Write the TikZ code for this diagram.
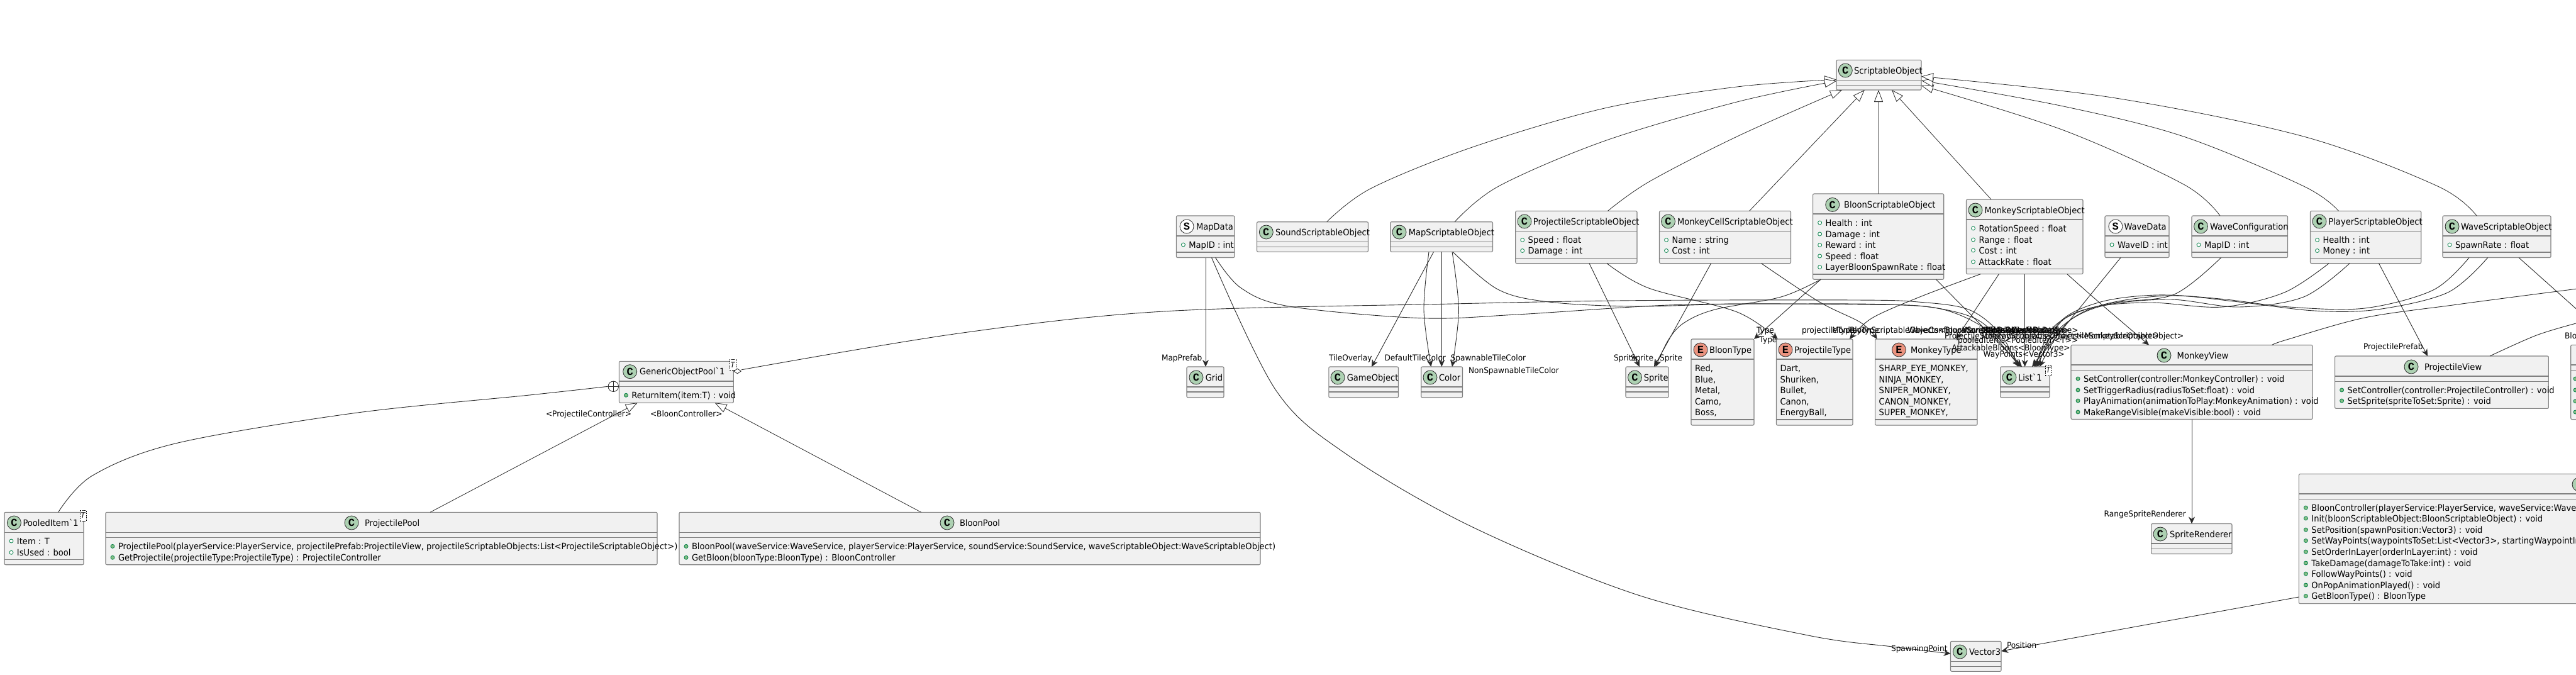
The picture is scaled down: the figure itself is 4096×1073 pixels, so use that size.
\documentclass[tikz,border=0pt]{standalone}
\usepackage{fontspec}
\usetikzlibrary{arrows.meta,shapes.geometric,calc}
\newfontfamily\umlf[FakeStretch=0.935]{DejaVu Sans}
\newfontfamily\spotf{Liberation Mono}
\definecolor{boxfill}{HTML}{F1F1F1}
\definecolor{boxline}{HTML}{808080}
\definecolor{ink}{HTML}{2A2A2A}
\definecolor{spotc}{HTML}{ADD1B2}
\definecolor{spote}{HTML}{EB937F}
\definecolor{dotline}{HTML}{038048}
\definecolor{dotfill}{HTML}{84BE84}
\newcount\autoN
\tikzset{
  classbox/.style={draw=boxline,fill=boxfill,line width=1.1pt,rounded corners=2pt,inner sep=0pt,outer sep=0pt},
  sepline/.style={draw=boxline,line width=1.1pt},
  spotn/.style={circle,draw=ink,line width=.8pt,minimum size=22pt,inner sep=0pt,font=\spotf\bfseries\fontsize{17}{17}\selectfont},
  txt/.style={anchor=base west,inner sep=0pt,outer sep=0pt,text=black,font=\umlf\fontsize{14}{14}\selectfont},
  lab/.style={anchor=base west,inner sep=0pt,outer sep=0pt,text=black,font=\umlf\fontsize{13}{13}\selectfont},
  dotn/.style={circle,draw=dotline,line width=.8pt,minimum size=6pt,inner sep=0pt},
  tmplbox/.style={draw=black,dashed,dash pattern=on 2pt off 1.5pt,line width=.7pt,fill=white,inner sep=0pt,font=\umlf\itshape\fontsize{12}{12}\selectfont},
  assoc/.style={draw=ink,line width=.9pt,-{Stealth[length=11pt,width=10pt,inset=3.5pt]}},
  inherit/.style={draw=ink,line width=.8pt,-{Triangle[open,fill=white,length=19pt,width=14pt,line width=.8pt]}},
  plainc/.style={draw=ink,line width=.9pt}
}
\newcommand\umlbox[7]{%
  \pgfmathsetmacro\bcx{(#2+#4)/2}\pgfmathsetmacro\bcy{(#3+#5)/2}%
  \pgfmathsetmacro\bw{#4-#2}\pgfmathsetmacro\bh{#5-#3}%
  \node[classbox,minimum width=\bw pt,minimum height=\bh pt] (#1) at (\bcx,\bcy) {};
  \draw[sepline] (#1.west |- 0,#6) -- (#1.east |- 0,#6);
  \draw[sepline] (#1.west |- 0,#7) -- (#1.east |- 0,#7);
}
\newcommand\head[7]{%
  \node[spotn,fill=#5] (#1-s) at (#2,#3) {#4};
  \node[txt] (#1-t) at (#6,#3+5) {#7};
}
\newcommand\attr[4]{\global\advance\autoN by 1
  \node[dotn,fill=white] (d\the\autoN) at (#2+11,#3) {};
  \node[txt] (#1-\the\autoN) at (#2+20,#3+5) {#4};}
\newcommand\meth[4]{\global\advance\autoN by 1
  \node[dotn,fill=dotfill] (d\the\autoN) at (#2+11,#3) {};
  \node[txt] (#1-\the\autoN) at (#2+20,#3+5) {#4};}
\newcommand\lit[4]{\global\advance\autoN by 1
  \node[txt] (#1-\the\autoN) at (#2+6,#3+5) {#4};}
\newcommand\tmpl[5]{%
  \pgfmathsetmacro\bcx{(#2+#4)/2}\pgfmathsetmacro\bcy{(#3+#5)/2}%
  \pgfmathsetmacro\bw{#4-#2}\pgfmathsetmacro\bh{#5-#3}%
  \node[tmplbox,minimum width=\bw pt,minimum height=\bh pt] (#1) at (\bcx,\bcy) {T};}
\newcommand\conn[2]{\draw[#1] plot[smooth,tension=.55] coordinates {#2};}
\begin{document}
\begin{tikzpicture}[x=1pt,y=-1pt]
\path[use as bounding box,clip] (0,0) rectangle (4096,1073);

% ---------- classes
\umlbox{so}{2920}{95.4}{3055}{143}{127.4}{135.3}
\head{so}{2934.3}{112}{C}{spotc}{2948}{ScriptableObject}

\umlbox{mapdata}{1870.4}{343}{1963}{409.5}{375}{401}
\head{mapdata}{1887}{360}{S}{white}{1902}{MapData}
\attr{mapdata}{1870.4}{389}{MapID : int}

\umlbox{sound}{1998.5}{352.7}{2175.5}{400.3}{384.5}{392.3}
\head{sound}{2013.3}{369}{C}{spotc}{2028}{SoundScriptableObject}

\umlbox{mapso}{2210.7}{352.7}{2373.5}{400.3}{384.5}{392.3}
\head{mapso}{2225}{369}{C}{spotc}{2239.8}{MapScriptableObject}

\umlbox{projso}{2409.7}{335.4}{2603}{418.7}{367.4}{410.3}
\head{projso}{2424}{352}{C}{spotc}{2437.8}{ProjectileScriptableObject}
\attr{projso}{2409.7}{381.5}{Speed : float}
\attr{projso}{2409.7}{398.5}{Damage : int}

\umlbox{cellso}{2638.5}{335.4}{2847.5}{418.7}{367.4}{410.3}
\head{cellso}{2652.5}{352}{C}{spotc}{2667}{MonkeyCellScriptableObject}
\attr{cellso}{2638.5}{381.5}{Name : string}
\attr{cellso}{2638.5}{398.5}{Cost : int}

\umlbox{bloonso}{2882.6}{308}{3090.7}{444.2}{340}{436}
\head{bloonso}{2913.7}{325.4}{C}{spotc}{2932}{BloonScriptableObject}
\attr{bloonso}{2882.6}{354}{Health : int}
\attr{bloonso}{2882.6}{372}{Damage : int}
\attr{bloonso}{2882.6}{389.5}{Reward : int}
\attr{bloonso}{2882.6}{407}{Speed : float}
\attr{bloonso}{2882.6}{424.6}{LayerBloonSpawnRate : float}

\umlbox{monkeyso}{3126.5}{317}{3312}{435.6}{349}{427.7}
\head{monkeyso}{3141}{334}{C}{spotc}{3155.5}{MonkeyScriptableObject}
\attr{monkeyso}{3126.5}{363}{RotationSpeed : float}
\attr{monkeyso}{3126.5}{381}{Range : float}
\attr{monkeyso}{3126.5}{398}{Cost : int}
\attr{monkeyso}{3126.5}{416}{AttackRate : float}

\umlbox{wavedata}{3347}{343}{3449}{409.5}{375}{401}
\head{wavedata}{3363.8}{360}{S}{white}{3377.5}{WaveData}
\attr{wavedata}{3347}{389}{WaveID : int}

\umlbox{wavecfg}{3485}{343}{3637.6}{409.5}{375}{401}
\head{wavecfg}{3499.5}{360}{C}{spotc}{3514}{WaveConfiguration}
\attr{wavecfg}{3485}{389}{MapID : int}

\umlbox{playerso}{3673.5}{335.4}{3849.7}{418.7}{367.4}{410.3}
\head{playerso}{3688}{352}{C}{spotc}{3702.4}{PlayerScriptableObject}
\attr{playerso}{3673.5}{381.5}{Health : int}
\attr{playerso}{3673.5}{398.5}{Money : int}

\umlbox{waveso}{3884}{343}{4056}{409.5}{375}{401}
\head{waveso}{3899}{360}{C}{spotc}{3913}{WaveScriptableObject}
\attr{waveso}{3884}{389}{SpawnRate : float}

\umlbox{grid}{1887}{583}{1946}{632}{615}{623}
\head{grid}{1902}{600}{C}{spotc}{1916.8}{Grid}
\umlbox{gameobj}{2112.8}{583}{2223.5}{632}{615}{623}
\head{gameobj}{2127}{600}{C}{spotc}{2141.8}{GameObject}
\umlbox{color}{2259.7}{583}{2325.5}{632}{615}{623}
\head{color}{2274}{600}{C}{spotc}{2288}{Color}
\umlbox{sprite}{2585}{583}{2653}{632}{615}{623}
\head{sprite}{2599.5}{600}{C}{spotc}{2613.8}{Sprite}

\umlbox{bloontype}{2689}{539}{2789}{676}{571}{667}
\head{bloontype}{2704}{556}{E}{spote}{2718}{BloonType}
\lit{bloontype}{2689}{585}{Red,}
\lit{bloontype}{2689}{603}{Blue,}
\lit{bloontype}{2689}{620}{Metal,}
\lit{bloontype}{2689}{638}{Camo,}
\lit{bloontype}{2689}{655}{Boss,}

\umlbox{projtype}{2824.5}{539}{2946}{676}{571}{667}
\head{projtype}{2839}{556}{E}{spote}{2853}{ProjectileType}
\lit{projtype}{2824.5}{585}{Dart,}
\lit{projtype}{2824.5}{603}{Shuriken,}
\lit{projtype}{2824.5}{620}{Bullet,}
\lit{projtype}{2824.5}{638}{Canon,}
\lit{projtype}{2824.5}{655}{EnergyBall,}

\umlbox{monkeytype}{2981.6}{539}{3144}{676}{571}{667}
\head{monkeytype}{3019.4}{556}{E}{spote}{3038}{MonkeyType}
\lit{monkeytype}{2981.6}{585}{SHARP\_EYE\_MONKEY,}
\lit{monkeytype}{2981.6}{603}{NINJA\_MONKEY,}
\lit{monkeytype}{2981.6}{620}{SNIPER\_MONKEY,}
\lit{monkeytype}{2981.6}{638}{CANON\_MONKEY,}
\lit{monkeytype}{2981.6}{655}{SUPER\_MONKEY,}

\umlbox{list}{3180.6}{583}{3259}{632}{615}{623}
\head{list}{3195}{600}{C}{spotc}{3209}{List`1}
\tmpl{list-T}{3252}{580}{3262}{597}

\umlbox{monkeyview}{3293}{548.5}{3677}{666.5}{580}{588.5}
\head{monkeyview}{3441}{565}{C}{spotc}{3461.7}{MonkeyView}
\meth{monkeyview}{3293}{602}{SetController(controller:MonkeyController) : void}
\meth{monkeyview}{3293}{620}{SetTriggerRadius(radiusToSet:float) : void}
\meth{monkeyview}{3293}{637}{PlayAnimation(animationToPlay:MonkeyAnimation) : void}
\meth{monkeyview}{3293}{655}{MakeRangeVisible(makeVisible:bool) : void}

\umlbox{projview}{3712.6}{566}{4052.4}{649.4}{598}{606.7}
\head{projview}{3834}{583}{C}{spotc}{3855}{ProjectileView}
\meth{projview}{3712.6}{620}{SetController(controller:ProjectileController) : void}
\meth{projview}{3712.6}{637}{SetSprite(spriteToSet:Sprite) : void}

\umlbox{bloonview}{4087.7}{548.3}{4300}{666.7}{580}{588.3}
\node[dotn,fill=dotfill] (bv1) at (4095,602) {};
\node[dotn,fill=dotfill] (bv2) at (4095,620) {};
\node[dotn,fill=dotfill] (bv3) at (4095,637.7) {};
\node[dotn,fill=dotfill] (bv4) at (4095,655) {};

\umlbox{spriterend}{3420.6}{832.5}{3549}{880.5}{864}{872.6}
\head{spriterend}{3435}{849}{C}{spotc}{3450}{SpriteRenderer}

\umlbox{bloonctrl}{3655.4}{753.4}{4400}{959.6}{785}{793.5}
\node[spotn,fill=spotc] (bloonctrl-s) at (4101,770) {};
\meth{bloonctrl}{3655.4}{807}{BloonController(playerService:PlayerService, waveService:WaveService, soundService:SoundService) }
\meth{bloonctrl}{3655.4}{824}{Init(bloonScriptableObject:BloonScriptableObject) : void}
\meth{bloonctrl}{3655.4}{842}{SetPosition(spawnPosition:Vector3) : void}
\meth{bloonctrl}{3655.4}{859.5}{SetWayPoints(waypointsToSet:List<Vector3>, startingWaypointIndex:int) : void}
\meth{bloonctrl}{3655.4}{877}{SetOrderInLayer(orderInLayer:int) : void}
\meth{bloonctrl}{3655.4}{895}{TakeDamage(damageToTake:int) : void}
\meth{bloonctrl}{3655.4}{912}{FollowWayPoints() : void}
\meth{bloonctrl}{3655.4}{930}{OnPopAnimationPlayed() : void}
\meth{bloonctrl}{3655.4}{947.5}{GetBloonType() : BloonType}

\umlbox{vector}{3101.5}{1019.3}{3182}{1067.3}{1051.3}{1059.3}
\head{vector}{3116.3}{1036}{C}{spotc}{3131}{Vector3}

\umlbox{gop}{984.4}{574.3}{1166.4}{640.3}{606}{614.3}
\head{gop}{1001.7}{590.7}{C}{spotc}{1017}{GenericObjectPool`1}
\meth{gop}{984.4}{628.3}{ReturnItem(item:T) : void}
\tmpl{gop-T}{1160}{571.7}{1170}{588}

\umlbox{pooled}{7}{814.3}{133}{897.7}{846.5}{889.2}
\head{pooled}{22.4}{831}{C}{spotc}{36.5}{PooledItem`1}
\attr{pooled}{7}{860}{Item : T}
\attr{pooled}{7}{878.3}{IsUsed : bool}
\tmpl{pooled-T}{127}{811}{137}{828}

\umlbox{projpool}{168}{814.3}{1045}{897.7}{846.5}{854.5}
\head{projpool}{559}{831}{C}{spotc}{580}{ProjectilePool}
\meth{projpool}{168}{868.4}{ProjectilePool(playerService:PlayerService, projectilePrefab:ProjectileView, projectileScriptableObjects:List<ProjectileScriptableObject>)}
\meth{projpool}{168}{886.3}{GetProjectile(projectileType:ProjectileType) : ProjectileController}

\umlbox{bloonpool}{1080}{814.3}{2004}{897.7}{846.5}{854.5}
\head{bloonpool}{1506}{831}{C}{spotc}{1526}{BloonPool}
\meth{bloonpool}{1080}{868.4}{BloonPool(waveService:WaveService, playerService:PlayerService, soundService:SoundService, waveScriptableObject:WaveScriptableObject)}
\meth{bloonpool}{1080}{886.3}{GetBloon(bloonType:BloonType) : BloonController}

% ---------- generalisation to ScriptableObject
\conn{inherit}{(2109.6,0 |- sound.north) (2179.7,299.6) (2341,234) (2551.5,172) (2762,138) (so.west |- 0,126.5)}
\conn{inherit}{(2313,0 |- mapso.north) (2383,296) (2551.5,224) (2762,162) (so.west |- 0,128.8)}
\conn{inherit}{(2556.4,0 |- projso.north) (2622,289) (2762,217) (2929,0 |- so.south)}
\draw[inherit] (2781.6,0 |- cellso.north) -- (2964.8,0 |- so.south);
\draw[inherit] (2987,0 |- bloonso.north) -- (2987,0 |- so.south);
\draw[inherit] (3166,0 |- monkeyso.north) -- (3008,0 |- so.south);
\conn{inherit}{(3530,0 |- wavecfg.north) (3472,293) (3281,207) (so.east |- 0,136)}
\conn{inherit}{(3718.5,0 |- playerso.north) (3663,296) (3472,217) (3281,169) (so.east |- 0,128)}
\conn{inherit}{(3938,0 |- waveso.north) (3876,296) (3663,217) (3358,155) (so.east |- 0,121.5)}

% ---------- generalisation to the pool
\draw[inherit] (684,0 |- projpool.north) -- (1013.7,0 |- gop.south);
\draw[inherit] (1464.7,0 |- bloonpool.north) -- (1136.6,0 |- gop.south);

% ---------- nested class
\node[circle,draw=ink,line width=.8pt,fill=white,minimum size=16.5pt,inner sep=0pt] (plus) at (975.3,614.3) {};
\draw[plainc] (plus.north) -- (plus.south);
\draw[plainc] (plus.west) -- (plus.east);
\conn{plainc}{(92.6,0 |- pooled.north) (147,756) (280,704.7) (561,657) (842,628) (plus.west)}

% ---------- associations
\draw[assoc] (1917,0 |- mapdata.south) -- (1917,0 |- grid.north);
\conn{assoc}{(1926.5,0 |- mapdata.south) (2028.5,620) (2138,720) (2339,836.7) (2607,946.7) (2875,1010) (3009,1028) (vector.west |- 0,1039)}
\conn{assoc}{(1932.6,0 |- mapdata.south) (1973.5,458) (2050,487) (2259,505.7) (2412,500) (2653,485) (2857,483) (3000,484) (3090,492) (3160,525) (3211,0 |- list.north)}
\conn{assoc}{(2310,0 |- mapso.south) (2381.6,460) (2463,480) (2600,487) (2762,483) (2950,484) (3060,487) (3140,506) (3185,545) (3213,0 |- list.north)}
\draw[assoc] (2279.6,0 |- mapso.south) -- (2181,0 |- gameobj.north);
\conn{assoc}{(2272,0 |- mapso.south) (2264,493) (2275.5,0 |- color.north)}
\draw[assoc] (2292.3,0 |- mapso.south) -- (2292.3,0 |- color.north);
\conn{assoc}{(2309,0 |- mapso.south) (2319.4,493) (2309,0 |- color.north)}
\draw[assoc] (2527,0 |- projso.south) -- (2607,0 |- sprite.north);
\conn{assoc}{(2555,0 |- projso.south) (2621.6,458) (2762,496) (2826.6,0 |- projtype.north)}
\draw[assoc] (2720.6,0 |- cellso.south) -- (2630,0 |- sprite.north);
\conn{assoc}{(2800.6,0 |- cellso.south) (2893,480) (2959,513) (2984.7,0 |- monkeytype.north)}
\conn{assoc}{(2895,0 |- bloonso.south) (2832,472) (2727,492) (2678,513) (2653,540) (2632.6,0 |- sprite.north)}
\draw[assoc] (2895,0 |- bloonso.south) -- (2789,0 |- bloontype.north);
\draw[assoc] (3078.5,0 |- bloonso.south) -- (3215,0 |- list.north);
\conn{assoc}{(3149.4,0 |- monkeyso.south) (3052.6,472) (2976,506) (2941,0 |- projtype.north)}
\draw[assoc] (3178.4,0 |- monkeyso.south) -- (3110,0 |- monkeytype.north);
\draw[assoc] (3219.6,0 |- monkeyso.south) -- (3219.6,0 |- list.north);
\conn{assoc}{(3286.7,0 |- monkeyso.south) (3337,480) (3417,0 |- monkeyview.north)}
\draw[assoc] (3372,0 |- wavedata.south) -- (3231,0 |- list.north);
\conn{assoc}{(3531.6,0 |- wavecfg.south) (3457,468) (3358,482) (3281,508) (3234,0 |- list.north)}
\conn{assoc}{(3703,0 |- playerso.south) (3632,465) (3533,488) (3419,481) (3327,489) (3265,520) (3236,0 |- list.north)}
\conn{assoc}{(3736,0 |- playerso.south) (3663,472) (3560,488) (3450,476) (3340,487) (3275,522) (3238,0 |- list.north)}
\conn{assoc}{(3926,0 |- waveso.south) (3869,461) (3760,490) (3640,488) (3530,475) (3430,469) (3340,480) (3275,512) (3240,0 |- list.north)}
\conn{assoc}{(3955.7,0 |- waveso.south) (3892,465) (3780,492) (3680,494) (3560,480) (3450,470) (3345,484) (3285,515) (3243,0 |- list.north)}
\draw[assoc] (3782.5,0 |- playerso.south) -- (3860,0 |- projview.north);
\conn{assoc}{(1179,587.8) (1524,530) (1850,495) (2310,483) (2600,477.7) (2950,477) (3050,480) (3130,492) (3180,530) (3209,0 |- list.north)}
\draw[assoc] (3485,0 |- monkeyview.south) -- (3485,0 |- spriterend.north);
\draw[assoc] (bloonctrl.west |- 0,949) -- (vector.east |- 0,1035);
\coordinate (offright) at (4096,490.7);
\draw[plainc] (4005,0 |- waveso.south) -- (offright);
\coordinate (offright2) at (4096,514);
\conn{plainc}{(3959,0 |- projview.north) (4033,533) (offright2)}
\coordinate (offright3) at (4096,459.3);
\conn{plainc}{(3612.6,0 |- monkeyview.north) (3636,540) (3760,505) (3900,485) (4000,471.7) (offright3)}
\node[diamond,draw=ink,line width=.8pt,fill=white,minimum width=12pt,minimum height=8pt,aspect=1.5,inner sep=0pt] (agg) at (1172.5,590) {};

% ---------- labels
\node[lab] (l1) at (1847,573.5) {MapPrefab};
\node[lab] (l2) at (2113,573) {TileOverlay};
\node[lab] (l3) at (2201.5,573) {DefaultTileColor};
\node[lab] (l4) at (2306.6,573) {SpawnableTileColor};
\node[lab] (l5) at (2335,593) {NonSpawnableTileColor};
\node[lab] (l6) at (2566,573.5) {Sprite};
\node[lab] (l7) at (2593,573.5) {Sprite};
\node[lab] (l8) at (2639,573.5) {Sprite};
\node[lab] (l9) at (2793,529.5) {Type};
\node[lab] (l10) at (2797.5,544.5) {Type};
\node[lab] (l11) at (2865,529.5) {projectileType};
\node[lab] (l12) at (2913,529.5) {MonkeyType};
\node[lab] (l13) at (2941,529.5) {BloonScriptableObjects<BloonScriptableObject>};
\node[lab] (l14) at (3033,529.5) {WaveConfigurations<WaveConfiguration>};
\node[lab] (l15) at (3120,529.5) {WaveDatas<WaveData>};
\node[lab] (l16) at (3150,529.5) {MapDatas<MapData>};
\node[lab] (l17) at (3160,529.5) {TilesTypes<BloonType>};
\node[lab] (l18) at (3092,538) {ProjectileScriptableObjects<ProjectileScriptableObject>};
\node[lab] (l19) at (3150,538) {MonkeyScriptableObjects<MonkeyScriptableObject>};
\node[lab] (l20) at (3113,545) {pooledItems<PooledItem<T>>};
\node[lab] (l21) at (3103.6,557.5) {AttackableBloons<BloonType>};
\node[lab] (l22) at (3153.6,567.5) {WayPoints<Vector3>};
\node[lab] (l23) at (3758,555) {ProjectilePrefab};
\node[lab] (l24) at (4078,538.5) {BloonPrefab};
\node[lab] (l25) at (3345.7,821.5) {RangeSpriteRenderer};
\node[lab] (l26) at (3007,1035.5) {SpawningPoint};
\node[lab] (l27) at (3191,1030.5) {Position};
\node[lab] (l28) at (868,662.5) {<ProjectileController>};
\node[lab] (l29) at (1034,662.5) {<BloonController>};
\end{tikzpicture}
\end{document}
